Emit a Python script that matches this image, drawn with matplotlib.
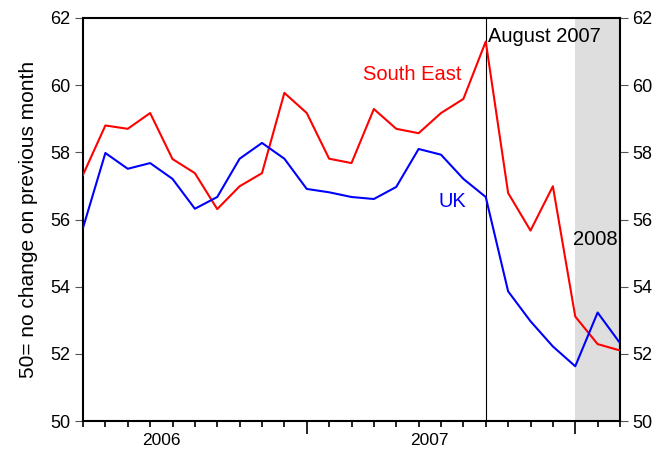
import matplotlib
matplotlib.use("Agg")
import matplotlib.pyplot as plt
from matplotlib.transforms import blended_transform_factory

plt.rcParams['font.family'] = ['Liberation Sans', 'DejaVu Sans']

months = ["2006-03", "2006-04", "2006-05", "2006-06", "2006-07", "2006-08", "2006-09",
          "2006-10", "2006-11", "2006-12", "2007-01", "2007-02", "2007-03", "2007-04",
          "2007-05", "2007-06", "2007-07", "2007-08", "2007-09", "2007-10", "2007-11",
          "2007-12", "2008-01", "2008-02", "2008-03"]
south_east = [57.33, 58.80, 58.70, 59.17, 57.80, 57.38, 56.31, 56.99, 57.38, 59.77,
              59.17, 57.81, 57.68, 59.29, 58.70, 58.57, 59.17, 59.59, 61.30, 56.79,
              55.67, 56.99, 53.11, 52.29, 52.10]
uk = [55.75, 57.98, 57.51, 57.68, 57.21, 56.32, 56.67, 57.81, 58.28, 57.81,
      56.91, 56.81, 56.67, 56.61, 56.97, 58.10, 57.93, 57.21, 56.67, 53.86,
      52.97, 52.22, 51.63, 53.23, 52.32]
year_labels = ["2006", "2007"]
year_label_months = ["2006-06", "2007-06"]  # label centred mid-year
year_start_months = ["2007-01", "2008-01"]
event_month = "2007-09"
event_label = "August 2007"
shade_start, shade_end = "2008-01", "2008-03"
y_ticks = [50, 52, 54, 56, 58, 60, 62]

x = list(range(len(months)))
idx = {m: i for i, m in enumerate(months)}

fig = plt.figure(figsize=(6.66, 4.51), dpi=100)
ax = fig.add_axes([83/666, 30/451, (620-83)/666, (421-18)/451])

ax.axvspan(idx[shade_start], idx[shade_end], color='#dedede', lw=0, zorder=0)
ax.axvline(idx[event_month], color='black', lw=0.8, zorder=1)

ax.plot(x, south_east, color='#ff0000', lw=1.5, zorder=3)
ax.plot(x, uk, color='#0000ff', lw=1.5, zorder=3)

ax.set_xlim(0, len(months) - 1)
ax.set_ylim(50, 62)
ax.set_yticks(y_ticks)
ax.tick_params(axis='y', which='both', direction='out', length=6, width=0.8,
               color='#555555', labelsize=13, left=True, right=True,
               labelleft=True, labelright=True, pad=3)

ax.set_xticks([idx[m] for m in year_start_months])
ax.set_xticklabels([])
ax.set_xticks(x, minor=True)
ax.tick_params(axis='x', which='major', direction='out', length=9, width=1.2)
ax.tick_params(axis='x', which='minor', direction='out', length=4, width=1.2)

trans = blended_transform_factory(ax.transData, ax.transAxes)
for lab, m in zip(year_labels, year_label_months):
    ax.text(idx[m] + 0.5, -0.060, lab, transform=trans, ha='center', va='baseline',
            fontsize=12.5)

for s in ax.spines.values():
    s.set_linewidth(1.5)

ax.set_ylabel("50= no change on previous month", fontsize=15, labelpad=9)

ax.text(18.1, 61.29, event_label, fontsize=14.5, color='black', va='baseline', ha='left')
ax.text(12.51, 60.16, "South East", fontsize=14.5, color='#ff0000', va='baseline', ha='left')
ax.text(15.87, 56.38, "UK", fontsize=14.5, color='#0000ff', va='baseline', ha='left')
ax.text(21.9, 55.25, "2008", fontsize=14.5, color='black', va='baseline', ha='left')

fig.savefig("out.png", dpi=100)
